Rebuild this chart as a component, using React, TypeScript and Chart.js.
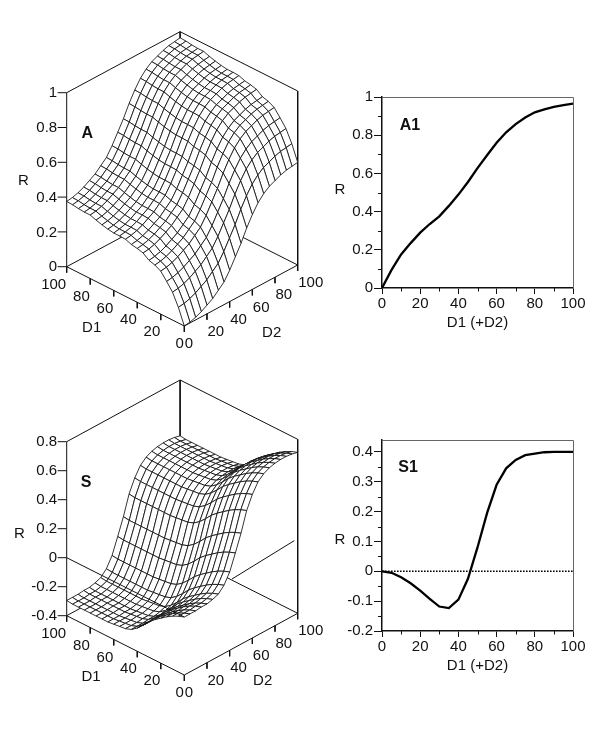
import React, { useEffect, useRef } from "react";
import { Chart, registerables } from "chart.js";

Chart.register(...registerables);

// ---- data ----
const gridSteps = [0, 5, 10, 15, 20, 25, 30, 35, 40, 45, 50, 55, 60, 65, 70, 75, 80, 85, 90, 95, 100];

// Surfaces: values read along the D1 edge (D2 = 0) and the D2 edge (D1 = 0).
// Each grid node is the reading of the two edges at that node added together.
const surfaceA_D1 = [0, 0.09, 0.16, 0.205, 0.247, 0.265, 0.275, 0.3, 0.309, 0.315, 0.328, 0.33, 0.33, 0.335, 0.343, 0.353, 0.365, 0.365, 0.368, 0.373, 0.375];
const surfaceA_D2 = [0, 0.005, 0.015, 0.03, 0.05, 0.07, 0.1, 0.13, 0.18, 0.24, 0.3, 0.37, 0.43, 0.48, 0.515, 0.54, 0.555, 0.57, 0.58, 0.585, 0.59];
const surfaceS_D1 = [0, -0.015, -0.035, -0.06, -0.09, -0.12, -0.155, -0.2, -0.24, -0.27, -0.285, -0.29, -0.295, -0.3, -0.3, -0.3, -0.3, -0.3, -0.3, -0.3, -0.295];
const surfaceS_D2 = [0, 0, 0, 0.005, 0.005, 0.015, 0.03, 0.07, 0.14, 0.25, 0.365, 0.5, 0.59, 0.655, 0.69, 0.71, 0.72, 0.725, 0.725, 0.72, 0.71];

const curveX = [0, 5, 10, 15, 20, 25, 30, 35, 40, 45, 50, 55, 60, 65, 70, 75, 80, 85, 90, 95, 100];
const curveA1 = [0, 0.095, 0.176, 0.235, 0.29, 0.335, 0.375, 0.43, 0.489, 0.555, 0.628, 0.695, 0.76, 0.815, 0.858, 0.893, 0.92, 0.935, 0.948, 0.958, 0.965];
const curveS1 = [0, -0.005, -0.02, -0.04, -0.065, -0.092, -0.118, -0.123, -0.095, -0.025, 0.08, 0.195, 0.29, 0.345, 0.373, 0.389, 0.394, 0.399, 0.4, 0.4, 0.4];

const doseTicks = [0, 20, 40, 60, 80, 100];
const rTicksA = [0, 0.2, 0.4, 0.6, 0.8, 1];
const rTicksS = [-0.4, -0.2, 0, 0.2, 0.4, 0.6, 0.8];
const minorXTicks = [10, 30, 50, 70, 90];
const minorYA1 = [0.1, 0.3, 0.5, 0.7, 0.9];
const minorYS1 = [-0.15, -0.05, 0.05, 0.15, 0.25, 0.35];
const s1Zero = [0, 100];
const sZeroPlaneD1 = [100, 0];
const sBackRefD2 = [42, 97];
const sBackRefR = [0.083, 0.114];

// ---- styling ----
const FONT = '"Liberation Sans", Arial, sans-serif';
const INK = "#111111";
Chart.defaults.font.family = FONT;
Chart.defaults.font.size = 15;
Chart.defaults.color = INK;

const fmt = (v: number) => String(+v.toFixed(2));

type Txt = { t: string; x: number; y: number; a?: CanvasTextAlign; bold?: boolean };

const textPlugin = (texts: Txt[]) => ({
  id: "texts",
  afterDraw(chart: any) {
    const { ctx, scales } = chart;
    ctx.save();
    ctx.fillStyle = INK;
    ctx.textBaseline = "middle";
    for (const l of texts) {
      ctx.font = `${l.bold ? "bold 16px" : "15px"} ${FONT}`;
      ctx.textAlign = l.a || "center";
      ctx.fillText(l.t, scales.x.getPixelForValue(l.x), scales.y.getPixelForValue(l.y));
    }
    ctx.restore();
  },
});

function surfaceChart(canvas: HTMLCanvasElement, c: any) {
  const project = (d1: number, d2: number, r: number) => ({
    x: c.ox + (d1 / 100) * c.ax + (d2 / 100) * c.bx,
    y: c.oy + (d1 / 100) * c.ay + (d2 / 100) * c.by - ((r - c.rMin) / (c.rMax - c.rMin)) * c.h,
  });
  const stroke = (data: any[], width = 1) => ({
    data,
    borderColor: INK,
    borderWidth: width,
    pointRadius: 0,
    tension: 0,
    fill: false,
  });

  const front: any[] = [];
  const back: any[] = [];
  const texts: Txt[] = [];

  // floor front edges and ticks
  front.push(stroke([project(100, 0, c.rMin), project(0, 0, c.rMin), project(0, 100, c.rMin)]));
  front.push(stroke([project(100, 0, c.rMin), project(100, 0, c.rMax)]));
  for (const d of doseTicks) {
    const p1 = project(d, 0, c.rMin);
    const p2 = project(0, d, c.rMin);
    front.push(stroke([p1, { x: p1.x, y: p1.y + 6 }]));
    if (d) front.push(stroke([p2, { x: p2.x, y: p2.y + 6 }]));
    texts.push({ t: String(d), x: p1.x - 0.5, y: p1.y + 18, a: "right" });
    texts.push({ t: String(d), x: p2.x + 0.5, y: p2.y + 18, a: "left" });
  }
  for (const r of c.rTicks) {
    const p = project(100, 0, r);
    front.push(stroke([{ x: p.x - 9, y: p.y }, p]));
    texts.push({ t: fmt(r), x: p.x - 9.5, y: p.y + 0.5, a: "right" });
  }
  if (c.zeroLine) {
    front.push(stroke(sZeroPlaneD1.map((d) => project(d, 0, 0))));
    back.push(stroke(sBackRefD2.map((d, i) => project(0, d, sBackRefR[i]))));
  }
  texts.push(...c.titles);

  // surface cells: nearest first, because the first dataset is painted last
  const cells: any[] = [];
  for (let i = 0; i < gridSteps.length - 1; i++) {
    for (let j = 0; j < gridSteps.length - 1; j++) {
      const node = (a: number, b: number) => project(gridSteps[a], gridSteps[b], c.p1[a] + c.p2[b]);
      cells.push({
        key: i + j,
        data: [node(i, j), node(i + 1, j), node(i + 1, j + 1), node(i, j + 1), node(i, j)],
        borderColor: INK,
        borderWidth: 0.85,
        backgroundColor: "#ffffff",
        fill: "shape",
        pointRadius: 0,
        tension: 0,
      });
    }
  }
  cells.sort((a, b) => a.key - b.key);

  // frame behind the surface
  back.push(stroke([project(100, 0, c.rMax), project(100, 100, c.rMax), project(0, 100, c.rMax), project(0, 100, c.rMin)]));
  back.push(stroke([project(100, 100, c.rMax), project(100, 100, c.rMin)]));
  back.push(stroke([project(100, 0, c.rMin), project(100, 100, c.rMin), project(0, 100, c.rMin)]));

  return new Chart(canvas, {
    type: "line",
    data: { datasets: [...front, ...cells, ...back] },
    options: {
      animation: false,
      responsive: false,
      parsing: false,
      events: [],
      layout: { padding: 0 },
      plugins: { legend: { display: false }, tooltip: { enabled: false } },
      scales: {
        x: { type: "linear", display: false, min: 0, max: c.width },
        y: { type: "linear", display: false, min: c.top, max: c.top + c.height, reverse: true },
      },
    },
    plugins: [textPlugin(texts)],
  } as any);
}

function curveChart(canvas: HTMLCanvasElement, c: any) {
  const datasets: any[] = [
    {
      data: curveX.map((x, i) => ({ x, y: c.values[i] })),
      borderColor: "#000000",
      borderWidth: 2.3,
      pointRadius: 0,
      tension: 0,
    },
  ];
  if (c.dotted) {
    datasets.push({
      data: s1Zero.map((x) => ({ x, y: 0 })),
      borderColor: "#000000",
      borderWidth: 1.6,
      borderDash: [1.6, 1.4],
      pointRadius: 0,
      tension: 0,
    });
  }
  const deco = {
    id: "deco",
    beforeDatasetsDraw(chart: any) {
      const { ctx, chartArea: a, scales } = chart;
      ctx.save();
      ctx.strokeStyle = "#666666";
      ctx.lineWidth = 1;
      ctx.beginPath();
      ctx.moveTo(a.left, a.top + 0.5);
      ctx.lineTo(a.right + 0.5, a.top + 0.5);
      ctx.lineTo(a.right + 0.5, a.bottom);
      ctx.stroke();
      ctx.strokeStyle = INK;
      ctx.beginPath();
      for (const v of minorXTicks) {
        const x = Math.round(scales.x.getPixelForValue(v)) + 0.5;
        ctx.moveTo(x, a.bottom);
        ctx.lineTo(x, a.bottom + 3.5);
      }
      for (const v of c.minorY) {
        const y = Math.round(scales.y.getPixelForValue(v)) + 0.5;
        ctx.moveTo(a.left, y);
        ctx.lineTo(a.left - 4, y);
      }
      ctx.stroke();
      ctx.restore();
    },
  };
  const pageText = {
    id: "pageText",
    afterDraw(chart: any) {
      const { ctx } = chart;
      ctx.save();
      ctx.fillStyle = INK;
      ctx.textAlign = "center";
      ctx.textBaseline = "middle";
      ctx.font = `15px ${FONT}`;
      ctx.fillText("R", c.rLabel.x - c.left, c.rLabel.y - c.top);
      ctx.font = `bold 16px ${FONT}`;
      ctx.fillText(c.name.t, c.name.x - c.left, c.name.y - c.top);
      ctx.restore();
    },
  };
  return new Chart(canvas, {
    type: "line",
    data: { datasets },
    options: {
      animation: false,
      responsive: false,
      parsing: false,
      events: [],
      layout: { padding: { top: c.padTop, right: c.padRight, left: 0, bottom: 0 } },
      plugins: { legend: { display: false }, tooltip: { enabled: false } },
      scales: {
        x: {
          type: "linear",
          min: 0,
          max: 100,
          afterFit: (s: any) => {
            s.height = c.xHeight;
          },
          ticks: { stepSize: 20, maxRotation: 0, padding: 1, color: INK, font: { size: 15 }, callback: (v: number) => fmt(v) },
          grid: { drawOnChartArea: false, tickLength: 6, tickColor: INK, tickWidth: 1 },
          border: { color: INK, width: 1.5 },
          title: { display: true, text: "D1 (+D2)", color: INK, font: { size: 15 }, padding: 0 },
        },
        y: {
          type: "linear",
          min: c.yMin,
          max: c.yMax,
          afterFit: (s: any) => {
            s.width = c.yWidth;
          },
          ticks: { stepSize: c.yStep, includeBounds: false, padding: 1, color: INK, font: { size: 15 }, callback: (v: number) => fmt(v) },
          grid: { drawOnChartArea: false, tickLength: 8, tickColor: INK, tickWidth: 1 },
          border: { color: INK, width: 1.5 },
        },
      },
    },
    plugins: [deco, pageText],
  } as any);
}

const boxes = {
  a: { left: 0, top: 0, width: 335, height: 366 },
  s: { left: 0, top: 366, width: 335, height: 367 },
  a1: { left: 331, top: 80, width: 269, height: 252 },
  s1: { left: 331, top: 425, width: 269, height: 250 },
};

export default function App() {
  const aRef = useRef<HTMLCanvasElement>(null);
  const sRef = useRef<HTMLCanvasElement>(null);
  const a1Ref = useRef<HTMLCanvasElement>(null);
  const s1Ref = useRef<HTMLCanvasElement>(null);

  useEffect(() => {
    const charts = [
      surfaceChart(aRef.current!, {
        ...boxes.a,
        ox: 184.3, oy: 326, ax: -117.6, ay: -59.3, bx: 113.4, by: -61, h: 174,
        rMin: 0, rMax: 1, rTicks: rTicksA, p1: surfaceA_D1, p2: surfaceA_D2,
        titles: [
          { t: "D1", x: 91.7, y: 327.7 },
          { t: "D2", x: 271.7, y: 332.7 },
          { t: "R", x: 23.3, y: 180.7 },
          { t: "A", x: 87.3, y: 134, bold: true },
        ],
      }),
      surfaceChart(sRef.current!, {
        ...boxes.s,
        ox: 184.3, oy: 675, ax: -117.6, ay: -59.3, bx: 113.4, by: -61.7, h: 174,
        rMin: -0.4, rMax: 0.8, rTicks: rTicksS, p1: surfaceS_D1, p2: surfaceS_D2, zeroLine: true,
        titles: [
          { t: "D1", x: 91, y: 676.7 },
          { t: "D2", x: 262.7, y: 681 },
          { t: "R", x: 19.3, y: 534 },
          { t: "S", x: 86, y: 482.7, bold: true },
        ],
      }),
      curveChart(a1Ref.current!, {
        ...boxes.a1,
        values: curveA1, yMin: 0, yMax: 1, yStep: 0.2, minorY: minorYA1,
        padTop: 17, padRight: 27, xHeight: 44, yWidth: 51,
        rLabel: { x: 340, y: 190 }, name: { t: "A1", x: 410, y: 125.7 },
      }),
      curveChart(s1Ref.current!, {
        ...boxes.s1,
        values: curveS1, yMin: -0.2, yMax: 0.44, yStep: 0.1, minorY: minorYS1, dotted: true,
        padTop: 15, padRight: 27, xHeight: 44, yWidth: 51,
        rLabel: { x: 340, y: 540 }, name: { t: "S1", x: 408, y: 468 },
      }),
    ];
    return () => charts.forEach((c) => c.destroy());
  }, []);

  const place = (b: any): React.CSSProperties => ({ position: "absolute", left: b.left, top: b.top, width: b.width, height: b.height });

  return (
    <div style={{ position: "absolute", left: 0, top: 0, width: 600, height: 733, background: "#ffffff", overflow: "hidden" }}>
      <canvas ref={aRef} width={boxes.a.width} height={boxes.a.height} style={place(boxes.a)} />
      <canvas ref={sRef} width={boxes.s.width} height={boxes.s.height} style={place(boxes.s)} />
      <canvas ref={a1Ref} width={boxes.a1.width} height={boxes.a1.height} style={place(boxes.a1)} />
      <canvas ref={s1Ref} width={boxes.s1.width} height={boxes.s1.height} style={place(boxes.s1)} />
    </div>
  );
}
